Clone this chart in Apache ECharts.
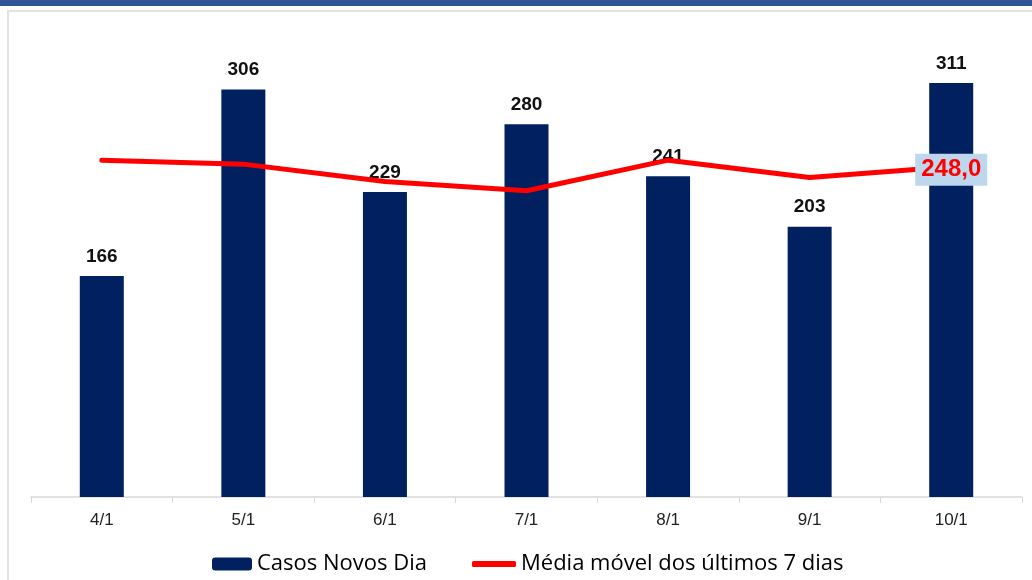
<!DOCTYPE html>
<html>
<head>
<meta charset="utf-8">
<script src="https://cdn.jsdelivr.net/npm/echarts@6/dist/echarts.min.js"></script>
<style>
  html, body { margin: 0; padding: 0; background: #fff; }
  .topbar { position: absolute; left: 0; top: 0; width: 1032px; height: 6px; background: #2f5597; }
  .frame { position: absolute; left: 7px; top: 10px; width: 1025px; height: 570px;
           border-left: 2px solid #e3e3e3; border-top: 2px solid #e3e3e3; box-sizing: border-box; }
  #chart { position: absolute; left: 0; top: 0; width: 1032px; height: 580px; }
</style>
</head>
<body>
<div class="topbar"></div>
<div class="frame"></div>
<div id="chart"></div>
<script>
// dias
const categories = ["4/1", "5/1", "6/1", "7/1", "8/1", "9/1", "10/1"];
// casos novos por dia
const casosNovos = [166, 306, 229, 280, 241, 203, 311];
// média móvel 7 dias
const mediaMovel = [253, 250, 237, 230, 253, 240, 248];

const chart = echarts.init(document.getElementById("chart"));

// só o último ponto da média tem rótulo
const mediaData = mediaMovel.map((v, i) => {
  if (i !== mediaMovel.length - 1) return v;
  return {
    value: v,
    label: {
      show: true,
      position: "inside",
      offset: [0, 3],
      formatter: (p) => p.value.toFixed(1).replace(".", ","),
      color: "#ff0000",
      fontFamily: "Liberation Sans, Arial",
      fontWeight: "bold",
      fontSize: 24,
      backgroundColor: "#bdd7ee",
      padding: [5, 6, 3, 6],
    },
  };
});

const legendText = { fontFamily: "Open Sans", fontSize: 22, color: "#000" };

const option = {
  animation: false,
  grid: { left: 31, right: 10, top: 31, bottom: 83 },
  legend: [
    {
      left: 207,
      top: 548,
      itemWidth: 40,
      itemHeight: 13,
      textStyle: legendText,
      data: ["Casos Novos Dia"],
    },
    {
      left: 467,
      top: 548,
      itemWidth: 44,
      itemHeight: 6,
      icon: "roundRect",
      textStyle: legendText,
      data: ["Média móvel dos últimos 7 dias"],
    },
  ],
  xAxis: {
    type: "category",
    data: categories,
    axisLine: { lineStyle: { color: "#d9d9d9", width: 1.5 } },
    axisTick: { show: true, length: 6, lineStyle: { color: "#d9d9d9" } },
    axisLabel: { fontFamily: "Liberation Sans, Arial", fontSize: 17, color: "#222", margin: 15 },
  },
  yAxis: {
    type: "value",
    min: 0,
    max: 350,
    show: false,
    splitLine: { show: false },
  },
  series: [
    {
      name: "Casos Novos Dia",
      type: "bar",
      data: casosNovos,
      barWidth: 44,
      itemStyle: { color: "#002060" },
      label: {
        show: true,
        position: "top",
        distance: 10,
        fontFamily: "Liberation Sans, Arial",
        fontWeight: "bold",
        fontSize: 19,
        color: "#111",
      },
      z: 2,
    },
    {
      name: "Média móvel dos últimos 7 dias",
      type: "line",
      data: mediaData,
      symbol: "circle",
      symbolSize: 1,
      showSymbol: true,
      lineStyle: { color: "#ff0000", width: 5, cap: "round", join: "round" },
      itemStyle: { color: "#ff0000" },
      z: 3,
    },
  ],
};

chart.setOption(option);
</script>
</body>
</html>
